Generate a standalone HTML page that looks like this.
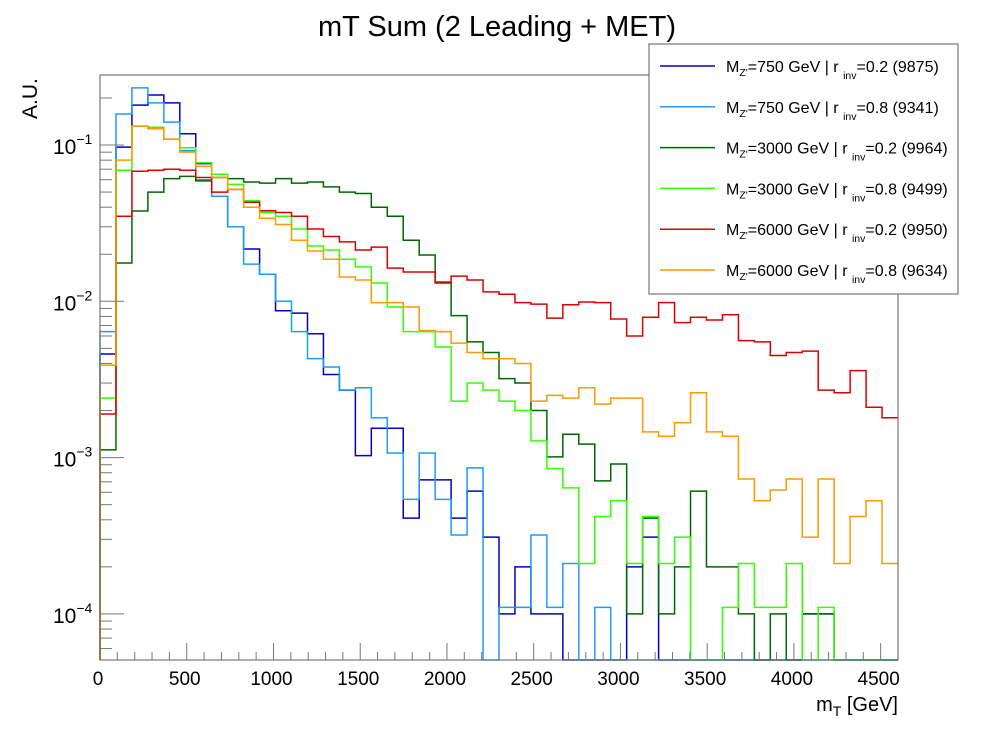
<!DOCTYPE html>
<html><head><meta charset="utf-8">
<style>
html,body{margin:0;padding:0;background:#fff;}
svg{display:block;font-family:"Liberation Sans",Arial,sans-serif;}
</style></head>
<body>
<svg id="chart" width="997" height="733" viewBox="0 0 997 733" xmlns="http://www.w3.org/2000/svg">
<rect x="0" y="0" width="997" height="733" fill="#fff"/>
<text x="497" y="36" font-size="29" text-anchor="middle" fill="#000">mT Sum (2 Leading + MET)</text>
<text transform="translate(37,119) rotate(-90)" font-size="21" fill="#000">A.U.</text>
<text x="898" y="711" font-size="20" text-anchor="end" fill="#000">m<tspan font-size="14" dy="5">T</tspan><tspan dy="-5"> [GeV]</tspan></text>
<g id="plot"></g>
<g id="axes"></g>
<g id="legend"></g>
</svg>
<script>
const binWidth = 92;
const nBins = 50;
const xTicks = [0,500,1000,1500,2000,2500,3000,3500,4000,4500];
const yDecades = [-4,-3,-2,-1];
const seriesNames = ["mz750-rinv02","mz750-rinv08","mz3000-rinv02","mz3000-rinv08","mz6000-rinv02","mz6000-rinv08"];
const seriesLabels = [["750","0.2","9875"],["750","0.8","9341"],["3000","0.2","9964"],["3000","0.8","9499"],["6000","0.2","9950"],["6000","0.8","9634"]];
const seriesColors = ["#0000cc","#1e9bff","#006600","#33ff00","#dd0000","#ff9900"];
const blue750_02 = [0.0046,0.097,0.18,0.209,0.186,0.118,0.076,0.047,0.030,0.0216,0.0149,0.0087,0.0084,0.0062,0.0034,0.0027,0.00103,0.00154,0.00154,0.00041,0.00072,0.00072,0.00041,0.00061,0.00031,0.0001,0.0002,0.0001,0.0001,0,0,0,0,0.0002,0.00031,0,0,0,0,0,0,0,0,0,0.0001,0.0001,0,0,0,0];
const lblue750_08 = [0.0064,0.158,0.232,0.186,0.14,0.092,0.060,0.047,0.030,0.0173,0.0149,0.0100,0.0064,0.0043,0.0038,0.0027,0.0028,0.0018,0.00107,0.00054,0.00107,0.00054,0.00032,0.00086,0,0.00011,0.00011,0.00032,0.00011,0.00021,0,0.00011,0,0,0,0,0,0,0,0,0,0,0,0,0,0,0,0,0,0];
const dgreen3000_02 = [0.00112,0.0176,0.0378,0.050,0.061,0.063,0.059,0.062,0.061,0.058,0.057,0.061,0.057,0.058,0.054,0.050,0.049,0.040,0.035,0.0246,0.0198,0.0131,0.0081,0.0055,0.0047,0.0032,0.0030,0.0020,0.00101,0.00141,0.00122,0.00071,0.00091,0.0001,0.00041,0.0001,0.0002,0.00061,0.0002,0.0002,0.0001,0,0.0001,0,0.0001,0.0001,0,0,0,0];
const lgreen3000_08 = [0.0024,0.069,0.132,0.13,0.109,0.096,0.077,0.065,0.056,0.044,0.037,0.035,0.029,0.0226,0.0213,0.0186,0.0166,0.0131,0.0092,0.0064,0.0064,0.0051,0.0023,0.0030,0.0027,0.0023,0.0020,0.00128,0.00085,0.00064,0.00021,0.00042,0.00053,0.00021,0.00042,0.00021,0.00031,0,0,0.00011,0.00021,0.00011,0.00011,0.00021,0,0.00011,0,0,0,0];
const red6000_02 = [0.0019,0.035,0.068,0.069,0.070,0.069,0.062,0.050,0.052,0.043,0.038,0.037,0.035,0.029,0.026,0.024,0.0213,0.0222,0.0163,0.0154,0.0154,0.0133,0.0145,0.0137,0.0115,0.0111,0.0098,0.0096,0.0078,0.0095,0.0099,0.0098,0.0077,0.0060,0.0079,0.0098,0.0073,0.0079,0.0076,0.0082,0.0056,0.0055,0.0045,0.0047,0.0048,0.0027,0.0026,0.0036,0.0021,0.0018];
const orange6000_08 = [0.0039,0.080,0.132,0.127,0.109,0.090,0.073,0.062,0.052,0.040,0.034,0.031,0.0246,0.0210,0.0186,0.0143,0.0137,0.0098,0.0098,0.0092,0.0065,0.0064,0.0054,0.0047,0.0043,0.0043,0.0040,0.0023,0.0025,0.0024,0.0028,0.0022,0.0024,0.0024,0.00146,0.00137,0.00167,0.0026,0.00146,0.00137,0.00073,0.00053,0.00062,0.00073,0.00031,0.00073,0.00021,0.00042,0.00053,0.00021];
const seriesData = [blue750_02,lblue750_08,dgreen3000_02,lgreen3000_08,red6000_02,orange6000_08];

const NS="http://www.w3.org/2000/svg";
const L=100,R=898,T=75,B=660;
const xMin=0,xMax=4600;
const yLogMin=-4.295,yLogMax=-0.552;
function xs(v){return L+(v-xMin)/(xMax-xMin)*(R-L);}
function ys(v){if(v<=0)return B;let ly=Math.log10(v);if(ly<yLogMin)return B;return B-(ly-yLogMin)/(yLogMax-yLogMin)*(B-T);}
function mk(tag,attrs,parent){const e=document.createElementNS(NS,tag);for(const k in attrs)e.setAttribute(k,attrs[k]);parent.appendChild(e);return e;}

const plot=document.getElementById('plot');
const axes=document.getElementById('axes');
const legend=document.getElementById('legend');

const frame=mk('rect',{x:L,y:T,width:R-L,height:B-T,fill:'none',stroke:'#777','stroke-width':1.2},axes);



seriesData.forEach((arr,si)=>{
  let d='M'+xs(0)+','+B;
  for(let i=0;i<nBins;i++){
    const y=ys(arr[i]);
    d+=' L'+xs(i*binWidth)+','+y+' L'+xs((i+1)*binWidth)+','+y;
  }
  const p=mk('path',{d:d,fill:'none',stroke:seriesColors[si],'stroke-width':1.5},plot);
  
  
});

for(let v=0;v<=4600;v+=100){
  const major=(v%500===0);
  const x=xs(v);
  const t=mk('line',{x1:x,x2:x,y1:B,y2:B-(major?17:8),stroke:'#777','stroke-width':1},axes);
  
  
}
xTicks.forEach(v=>{
  const t=mk('text',{x:xs(v)-2,y:685,'font-size':19,'text-anchor':'middle',fill:'#000'},axes);
  t.textContent=String(v);
  
  
});
for(let e=-5;e<=-1;e++){
  for(let m=1;m<=9;m++){
    const v=m*Math.pow(10,e);
    const lv=Math.log10(v);
    if(lv<yLogMin||lv>yLogMax)continue;
    const y=ys(v);
    const t=mk('line',{x1:L,x2:L+(m===1?24:12),y1:y,y2:y,stroke:'#777','stroke-width':1},axes);
    
    
  }
}
yDecades.forEach(e=>{
  const y=ys(Math.pow(10,e));
  const t=mk('text',{x:53,y:y+9,'font-size':21,fill:'#000'},axes);
  
  
  t.innerHTML='10<tspan font-size="14" dy="-10">&#8722;'+(-e)+'</tspan>';
});

const lb=mk('rect',{x:649,y:44,width:309,height:250,fill:'#fff',stroke:'#777','stroke-width':1.2},legend);


seriesLabels.forEach((lab,i)=>{
  const y=66+i*40.8;
  const g=mk('g',{},legend);
  
  
  mk('line',{x1:660,x2:715,y1:y,y2:y,stroke:seriesColors[i],'stroke-width':1.5},g);
  const t=mk('text',{x:726,y:y+6,'font-size':16,fill:'#000'},g);
  t.innerHTML='M<tspan font-size="10.5" dy="4">Z\'</tspan><tspan dy="-4">='+lab[0]+' GeV | r </tspan><tspan font-size="10.5" dy="7">inv</tspan><tspan dy="-7">='+lab[1]+' ('+lab[2]+')</tspan>';
});
</script>
</body></html>
